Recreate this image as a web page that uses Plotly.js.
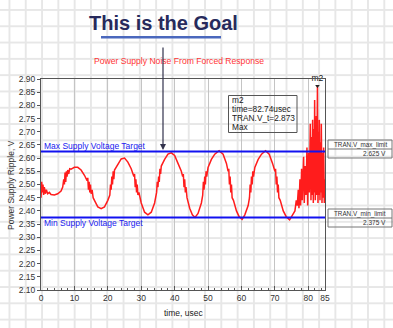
<!DOCTYPE html>
<html>
<head>
<meta charset="utf-8">
<script src="https://cdn.plot.ly/plotly-3.0.1.min.js"></script>
<style>
html,body{margin:0;padding:0;width:393px;height:328px;overflow:hidden;
background-color:#ffffff;
background-image:linear-gradient(to right,#e7e7e7 2px,transparent 2px),linear-gradient(to bottom,#e7e7e7 2px,transparent 2px);
background-size:16.3px 16.3px;background-position:8.5px 9px;}
#chart{width:393px;height:328px;}
</style>
</head>
<body>
<div id="chart"></div>
<script>
// ---- data ----
const time = [
 0,0.2,0.4,0.6,0.8,1.0,1.3,1.6,2.0,2.5,3,4,5,6,6.5,6.8,7.0,7.2,7.4,7.6,7.8,8.0,8.3,8.6,9,10,11,12,13,13.8,14.0,14.2,14.4,14.6,14.8,15.0,15.3,15.6,16,17,18,
 19,20,20.6,20.8,21.0,21.2,21.4,21.6,21.8,22.0,22.5,23,24,25,26,27,27.8,28.0,28.2,28.4,28.6,28.8,29.0,29.3,30,31,32,
 33,34,34.6,34.8,35.0,35.2,35.4,35.6,35.8,36.0,37,38,39,40,41,42,42.4,42.6,42.8,43.0,43.2,43.4,43.7,44.5,45.3,46.1,
 47,48,48.4,48.6,48.8,49.0,49.2,49.4,49.6,50,51,52,53.3,54.5,55.5,56,56.2,56.4,56.6,56.8,57.0,57.2,57.6,58.5,59.3,60.2,
 61,62,62.4,62.6,62.8,63.0,63.2,63.4,63.6,64,65,66,67.2,68.3,69.3,70,70.2,70.4,70.6,70.8,71.0,71.2,71.6,72.5,73.4,74.4,
 75.3,76.0,76.4,76.7,77.0,77.2,77.5,77.7,78.0,78.2,78.6,78.8,79.1,79.3,79.6,79.8,80.1,80.3,80.6,80.8,81.0,81.1,81.3,81.5,81.7,81.8,81.9,82.1,82.4,82.5,82.74,82.9,83.1,83.2,83.3,83.5,83.7,83.8,83.9,84.1,84.3,84.4,84.6,84.8,85.0
];
const ripple = [
 2.45,2.51,2.47,2.50,2.46,2.49,2.465,2.48,2.465,2.47,2.462,2.46,2.465,2.475,2.49,2.52,2.50,2.545,2.51,2.55,2.53,2.555,2.54,2.56,2.558,2.565,2.565,2.555,2.535,2.515,2.525,2.48,2.51,2.47,2.50,2.465,2.48,2.45,2.44,2.415,2.408,
 2.415,2.44,2.46,2.50,2.48,2.53,2.50,2.55,2.52,2.555,2.565,2.58,2.597,2.60,2.585,2.56,2.53,2.54,2.49,2.52,2.47,2.50,2.46,2.47,2.43,2.395,2.385,
 2.395,2.43,2.47,2.51,2.49,2.53,2.51,2.56,2.54,2.57,2.595,2.615,2.62,2.61,2.58,2.55,2.53,2.54,2.49,2.52,2.47,2.49,2.45,2.41,2.385,2.375,
 2.39,2.43,2.46,2.51,2.48,2.53,2.50,2.55,2.53,2.565,2.595,2.615,2.628,2.615,2.58,2.55,2.56,2.50,2.53,2.47,2.50,2.45,2.44,2.40,2.378,2.368,
 2.385,2.42,2.45,2.50,2.47,2.53,2.50,2.55,2.53,2.565,2.595,2.615,2.628,2.615,2.58,2.55,2.56,2.50,2.53,2.47,2.50,2.45,2.44,2.40,2.378,2.366,
 2.385,2.40,2.44,2.42,2.48,2.41,2.52,2.42,2.56,2.44,2.605,2.43,2.57,2.46,2.64,2.42,2.62,2.47,2.73,2.44,2.68,2.46,2.745,2.43,2.71,2.47,2.82,2.44,2.76,2.46,2.873,2.43,2.70,2.46,2.745,2.44,2.66,2.47,2.73,2.43,2.62,2.45,2.64,2.43,2.52
];
const limitValues = [2.625, 2.375];
const limitLabels = ['Max Supply Voltage Target', 'Min Supply Voltage Target'];
const limitNames = ['TRAN.V_max_limit', 'TRAN.V_min_limit'];
const limitReadouts = ['2.625 V', '2.375 V'];
const markerName = 'm2';
const markerTime = 82.74;
const markerValue = 2.873;
const markerLines = ['m2', 'time=82.74usec', 'TRAN.V_t=2.873', 'Max'];
const xTickVals = [0,10,20,30,40,50,60,70,80,85];
const xRange = [0, 85];
const yRange = [2.10, 2.90];

// ---- layout helpers (pixel -> paper) ----
const L = 41, R = 325, T = 79, B = 290;
const px = x => (x - L) / (R - L);
const py = y => (B - y) / (B - T);
const FONT = '"Liberation Sans", Arial, sans-serif';

const traces = [
  {x: time, y: ripple, mode: 'lines', line: {color: '#ff1c1c', width: 1.5}, hoverinfo: 'skip'},
  {x: xRange, y: [limitValues[0], limitValues[0]], mode: 'lines', line: {color: '#1212f0', width: 2}},
  {x: xRange, y: [limitValues[1], limitValues[1]], mode: 'lines', line: {color: '#1212f0', width: 2}},
  {x: [markerTime], y: [markerValue], mode: 'markers+text', text: [markerName], textposition: 'top center',
   textfont: {family: FONT, size: 8.5, color: '#111'}, cliponaxis: false,
   marker: {symbol: 'triangle-down', size: 4, color: '#222'}}
];

const annotations = [
  {text: '<b>This is the Goal</b>', xref: 'paper', yref: 'paper', x: px(163), y: py(23), xanchor: 'center', yanchor: 'middle',
   showarrow: false, font: {family: FONT, size: 20, color: '#272a5c'}},
  {text: 'Power Supply Noise From Forced Response', xref: 'paper', yref: 'paper', x: px(178.5), y: py(61), xanchor: 'center', yanchor: 'middle',
   showarrow: false, font: {family: FONT, size: 8.6, color: '#ff3535'}},
  {text: '', xref: 'paper', yref: 'paper', x: px(163), y: py(150), ax: 0, ay: -104, showarrow: true,
   arrowhead: 2, arrowsize: 1, arrowwidth: 1.2, arrowcolor: '#33334d'},
  {text: limitLabels[0], xref: 'x', yref: 'y', x: 0.4, y: limitValues[0], xanchor: 'left', yanchor: 'bottom', yshift: -1,
   showarrow: false, font: {family: FONT, size: 8.5, color: '#2020f0'}},
  {text: limitLabels[1], xref: 'x', yref: 'y', x: 0.4, y: limitValues[1], xanchor: 'left', yanchor: 'top', yshift: 1,
   showarrow: false, font: {family: FONT, size: 8.5, color: '#2020f0'}},
  {text: 'time, usec', xref: 'paper', yref: 'paper', x: px(183), y: py(313), xanchor: 'center', yanchor: 'middle',
   showarrow: false, font: {family: FONT, size: 8.5, color: '#222'}},
  {text: 'Power Supply Ripple, V', xref: 'paper', yref: 'paper', x: px(11), y: py(185), xanchor: 'center', yanchor: 'middle',
   textangle: -90, showarrow: false, font: {family: FONT, size: 8.5, color: '#333'}}
];
markerLines.forEach((s, i) => {
  annotations.push({text: s, xref: 'paper', yref: 'paper', x: px(230), y: py(100.4 + i * 9), xanchor: 'left', yanchor: 'middle',
    height: 10.5, valign: 'middle', showarrow: false, font: {family: FONT, size: 8.3, color: '#1a1a1a'}});
});
const boxTop = [140, 209];
limitNames.forEach((n, i) => {
  annotations.push({text: n, xref: 'paper', yref: 'paper', x: px(360), y: py(boxTop[i] + 4.5), xanchor: 'center', yanchor: 'middle',
    showarrow: false, font: {family: FONT, size: 6.3, color: '#333'}});
  annotations.push({text: limitReadouts[i], xref: 'paper', yref: 'paper', x: px(388), y: py(boxTop[i] + 13.5), xanchor: 'right', yanchor: 'middle',
    showarrow: false, font: {family: FONT, size: 6.5, color: '#333'}});
});

const shapes = [
  {type: 'line', xref: 'paper', yref: 'paper', x0: px(101), x1: px(221), y0: py(37.3), y1: py(37.3), line: {color: '#4a68bd', width: 2.5}},
  {type: 'rect', xref: 'paper', yref: 'paper', x0: px(228.5), x1: px(297), y0: py(95.5), y1: py(132.5), line: {color: '#555', width: 1}}
];
boxTop.forEach(t => {
  shapes.push({type: 'rect', xref: 'paper', yref: 'paper', x0: px(328), x1: px(392), y0: py(t), y1: py(t + 18), line: {color: '#777', width: 1}});
  shapes.push({type: 'line', xref: 'paper', yref: 'paper', x0: px(328), x1: px(392), y0: py(t + 9), y1: py(t + 9), line: {color: '#777', width: 1}});
});

const layout = {
  width: 393, height: 328,
  margin: {l: L, r: 393 - R, t: T, b: 328 - B, pad: 0},
  paper_bgcolor: 'rgba(0,0,0,0)', plot_bgcolor: 'rgba(0,0,0,0)',
  showlegend: false,
  font: {family: FONT, size: 8.5, color: '#333'},
  xaxis: {range: xRange, tickmode: 'array', tickvals: xTickVals, ticktext: xTickVals.map(String),
    showline: true, linecolor: '#555', linewidth: 1, mirror: true,
    ticks: 'inside', ticklen: 4, tickcolor: '#555', showgrid: true, gridcolor: '#c4c4c4', gridwidth: 1,
    zeroline: false, tickfont: {family: FONT, size: 8.5, color: '#333'},
    minor: {tickmode: 'linear', tick0: 0, dtick: 2, ticks: 'inside', ticklen: 2, tickcolor: '#555', showgrid: false}},
  yaxis: {range: yRange, tickmode: 'linear', tick0: 2.10, dtick: 0.05, tickformat: '.2f',
    showline: true, linecolor: '#555', linewidth: 1, mirror: true,
    ticks: 'outside', ticklen: 3, tickcolor: '#555', showgrid: false, zeroline: false,
    tickfont: {family: FONT, size: 8.5, color: '#333'}},
  annotations: annotations,
  shapes: shapes
};

Plotly.newPlot('chart', traces, layout, {staticPlot: true, displayModeBar: false});
</script>
</body>
</html>
